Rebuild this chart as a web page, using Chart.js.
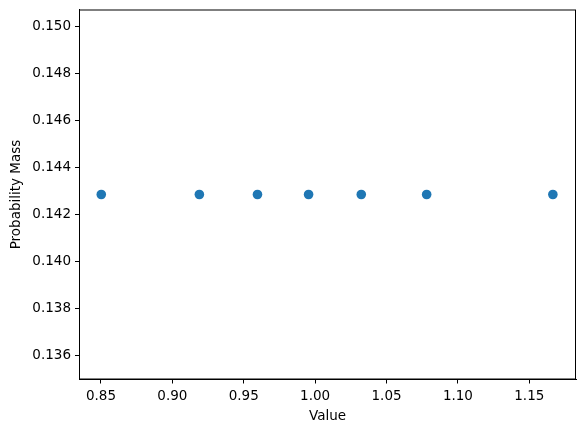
<!DOCTYPE html>
<html>
<head>
<meta charset="utf-8">
<script src="https://cdn.jsdelivr.net/npm/chart.js@4"></script>
<style>
  html, body { margin: 0; padding: 0; background: #fff; }
  #wrap { width: 584px; height: 432px; }
</style>
</head>
<body>
<div id="wrap"><canvas id="chart"></canvas></div>
<script>
// values
const values = [0.8502, 0.9189, 0.9596, 0.9954, 1.0323, 1.0781, 1.1665];
const probs = [1/7, 1/7, 1/7, 1/7, 1/7, 1/7, 1/7];
const xTicks = [0.85, 0.90, 0.95, 1.00, 1.05, 1.10, 1.15];
const yTicks = [0.136, 0.138, 0.140, 0.142, 0.144, 0.146, 0.148, 0.150];

const points = values.map((v, i) => ({ x: v, y: probs[i] }));

// box around the plot area, like matplotlib spines
const frame = {
    id: 'frame',
    afterDraw(chart) {
        const a = chart.chartArea;
        const ctx = chart.ctx;
        ctx.save();
        ctx.strokeStyle = '#000';
        ctx.lineWidth = 1;
        ctx.strokeRect(a.left + 0.5, a.top + 0.5, a.right - a.left - 1, a.bottom - a.top - 1);
        ctx.restore();
    }
};

const font = { family: 'DejaVu Sans', size: 13.5 };

new Chart(document.getElementById('chart'), {
    type: 'scatter',
    data: {
        datasets: [{
            data: points,
            backgroundColor: '#1f77b4',
            borderColor: '#1f77b4',
            pointRadius: 4.8,
            pointHoverRadius: 4.8,
            borderWidth: 0
        }]
    },
    options: {
        responsive: true,
        maintainAspectRatio: false,
        animation: false,
        events: [],
        layout: { padding: { left: 0, right: 8, top: 9.5, bottom: 0 } },
        plugins: { legend: { display: false }, tooltip: { enabled: false } },
        scales: {
            x: {
                type: 'linear',
                min: 0.8346,
                max: 1.1827,
                afterBuildTicks: scale => { scale.ticks = xTicks.map(v => ({ value: v })); },
                afterFit: scale => { scale.height = 52.5; scale.paddingLeft = 0; scale.paddingRight = 0; },
                grid: { drawOnChartArea: false, drawTicks: true, tickLength: 4, tickColor: '#000', tickWidth: 1 },
                border: { display: true, color: '#000' },
                ticks: { color: '#000', font: font, padding: 5, maxRotation: 0, callback: v => v.toFixed(2) },
                title: { display: true, text: 'Value', color: '#000', font: font, padding: { top: 0, bottom: 7 } }
            },
            y: {
                type: 'linear',
                min: 0.135,
                max: 0.150714,
                afterBuildTicks: scale => { scale.ticks = yTicks.map(v => ({ value: v })); },
                afterFit: scale => { scale.width = 79; scale.paddingTop = 0; scale.paddingBottom = 0; },
                grid: { drawOnChartArea: false, drawTicks: true, tickLength: 4, tickColor: '#000', tickWidth: 1 },
                border: { display: true, color: '#000' },
                ticks: { color: '#000', font: font, padding: 4, callback: v => v.toFixed(3) },
                title: { display: true, text: 'Probability Mass', color: '#000', font: font, padding: { top: 8, bottom: 2 } }
            }
        }
    },
    plugins: [frame]
});
</script>
</body>
</html>
